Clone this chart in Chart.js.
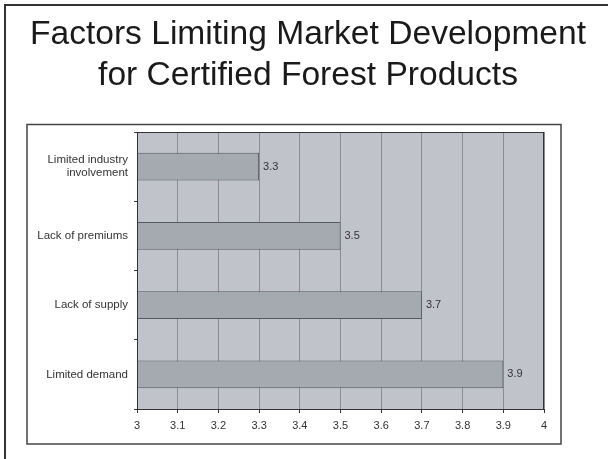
<!DOCTYPE html>
<html>
<head>
<meta charset="utf-8">
<script src="https://cdn.jsdelivr.net/npm/chart.js@4"></script>
<style>
  html, body { margin: 0; padding: 0; background: #fff; }
  #wrap { width: 608px; height: 459px; }
</style>
</head>
<body>
<div id="wrap"><canvas id="factorsChart" width="608" height="459"></canvas></div>
<script>
var titleLines = ['Factors Limiting Market Development', 'for Certified Forest Products'];
var factors = [['Limited industry', 'involvement'], 'Lack of premiums', 'Lack of supply', 'Limited demand'];
var scores = [3.3, 3.5, 3.7, 3.9];
var axisMin = 3;
var axisMax = 4;
var axisStep = 0.1;

// slide frame, plot background, title and value labels
var slidePlugin = {
    id: 'slide',
    beforeDraw: function (chart) {
        var ctx = chart.ctx, a = chart.chartArea;
        ctx.save();
        ctx.fillStyle = '#c0c3ca';
        ctx.fillRect(a.left, a.top, a.right - a.left, a.bottom - a.top);
        ctx.restore();
    },
    afterDatasetsDraw: function (chart) {
        var ctx = chart.ctx;
        ctx.save();
        ctx.font = '11px "Liberation Sans", Arial, sans-serif';
        ctx.fillStyle = '#333';
        ctx.textAlign = 'left';
        ctx.textBaseline = 'middle';
        chart.getDatasetMeta(0).data.forEach(function (bar, i) {
            ctx.fillText(scores[i].toFixed(1), bar.x + 4, bar.y);
        });
        ctx.restore();
    },
    afterDraw: function (chart) {
        var ctx = chart.ctx, a = chart.chartArea;
        ctx.save();
        // plot border
        ctx.strokeStyle = '#333';
        ctx.lineWidth = 1;
        ctx.strokeRect(a.left + 0.5, a.top + 0.5, a.right - a.left - 1, a.bottom - a.top);
        // inner chart box
        ctx.strokeStyle = '#444';
        ctx.lineWidth = 1.5;
        ctx.strokeRect(27, 124.5, 534, 319.5);
        // slide border (left and top)
        ctx.strokeStyle = '#333';
        ctx.lineWidth = 2;
        ctx.beginPath();
        ctx.moveTo(5, 459);
        ctx.lineTo(5, 5);
        ctx.lineTo(608, 5);
        ctx.stroke();
        // title
        ctx.fillStyle = '#1a1a1a';
        ctx.font = '33.6px "Liberation Sans", Arial, sans-serif';
        ctx.textAlign = 'center';
        ctx.textBaseline = 'alphabetic';
        ctx.fillText(titleLines[0], 308, 44);
        ctx.fillText(titleLines[1], 308, 85);
        ctx.restore();
    }
};

var ctx = document.getElementById('factorsChart').getContext('2d');
new Chart(ctx, {
    type: 'bar',
    data: {
        labels: factors,
        datasets: [{
            data: scores,
            backgroundColor: '#a5aab1',
            borderColor: '#555a60',
            borderWidth: 1,
            barPercentage: 0.4,
            categoryPercentage: 1
        }]
    },
    options: {
        indexAxis: 'y',
        responsive: false,
        animation: false,
        layout: { padding: { top: 132, left: 30, right: 64, bottom: 20 } },
        plugins: {
            legend: { display: false },
            title: { display: false },
            tooltip: { enabled: false }
        },
        scales: {
            x: {
                min: axisMin,
                max: axisMax,
                afterFit: function (s) { s.height = 30; },
                ticks: {
                    stepSize: axisStep,
                    padding: 6,
                    color: '#333',
                    font: { family: '"Liberation Sans", Arial, sans-serif', size: 11 },
                    callback: function (v) { return String(Math.round(v * 10) / 10); }
                },
                grid: { color: '#8a8c90', tickColor: '#333', tickLength: 4 },
                border: { color: '#333' }
            },
            y: {
                afterFit: function (s) { s.width = 107; },
                ticks: {
                    padding: 6,
                    color: '#333',
                    font: { family: '"Liberation Sans", Arial, sans-serif', size: 11.5, lineHeight: 1.15 }
                },
                grid: { offset: true, drawOnChartArea: false, tickColor: '#333', tickLength: 3 },
                border: { color: '#333' }
            }
        }
    },
    plugins: [slidePlugin]
});
</script>
</body>
</html>
